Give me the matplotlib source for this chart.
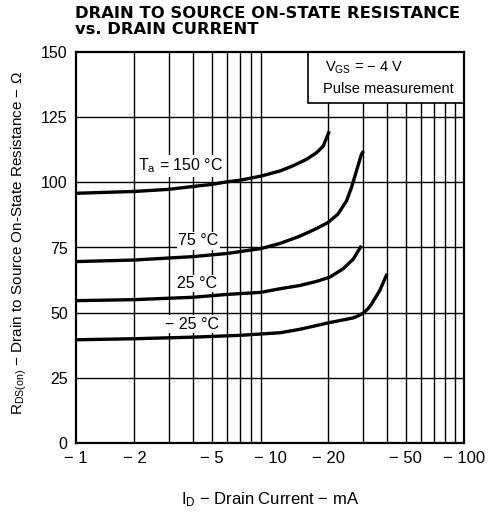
import numpy as np
import matplotlib
matplotlib.use("Agg")
import matplotlib.pyplot as plt
from matplotlib.patches import Rectangle

plt.rcParams['font.family'] = ['Liberation Sans', 'DejaVu Sans']
plt.rcParams['mathtext.default'] = 'regular'

# drain current (mA, magnitude) and on-state resistance (ohm) per temperature
id_150 = [1, 2, 3, 4, 5, 6, 7, 9, 11.3, 13.1, 15.4, 17.4, 18.8, 19.9, 20.2]
rds_150 = [95.8, 96.5, 97.3, 98.4, 99.2, 100.2, 100.8, 102.4, 104.4, 106.3, 108.8,
           111.4, 113.9, 118.4, 119.6]

id_75 = [1, 2, 4, 6, 9, 11.3, 14.2, 17.4, 19.9, 22.4, 24.8, 26.3, 27.9, 29.6, 30.3]
rds_75 = [69.6, 70.2, 71.5, 72.7, 74.6, 76.6, 79.3, 82.3, 84.6, 87.8, 92.9, 98, 104.4,
          110.7, 112]

id_25 = [1, 2, 4, 6, 9, 11.3, 14.2, 17.4, 20.3, 23.8, 26.9, 29.6]
rds_25 = [54.6, 55, 55.9, 57, 57.8, 59.2, 60.4, 62, 63.6, 66.8, 70.6, 75.7]

id_m25 = [1, 2, 4, 7, 11.3, 14.2, 20.3, 26.9, 28.5, 30.3, 32, 33.3, 36.8, 40.1]
rds_m25 = [39.6, 40, 40.6, 41.3, 42.3, 43.6, 46.2, 48.0, 48.8, 49.9, 51.5, 53.2,
           58.5, 64.9]

xticks = [1, 2, 5, 10, 20, 50, 100]
xtick_labels = ['\u2212 1', '\u2212 2', '\u2212 5', '\u2212 10', '\u2212 20', '\u2212 50', '\u2212 100']
yticks = [0, 25, 50, 75, 100, 125, 150]

W, H = 490, 515
fig = plt.figure(figsize=(W / 100, H / 100), dpi=100)
ax = fig.add_axes([76 / W, 1 - 443 / H, (464 - 76) / W, (443 - 52) / H])
ax.set_xscale('log')
ax.set_xlim(1, 100)
ax.set_ylim(0, 150)

# grid
for d in [1, 10]:
    for k in range(2, 10):
        ax.axvline(k * d, color='black', lw=1.0, zorder=1)
for y in [25, 50, 75, 100, 125]:
    ax.axhline(y, color='black', lw=1.0, zorder=1)

for xs, ys in [(id_150, rds_150), (id_75, rds_75), (id_25, rds_25), (id_m25, rds_m25)]:
    ax.plot(xs, ys, color='black', lw=2.4, solid_capstyle='butt',
            solid_joinstyle='round', zorder=3)

ax.set_xticks(xticks)
ax.set_xticklabels(xtick_labels, fontsize=12)
ax.xaxis.set_minor_locator(matplotlib.ticker.NullLocator())
ax.set_yticks(yticks)
ax.set_yticklabels([str(v) for v in yticks], fontsize=11.5)
ax.tick_params(length=0, pad=6)
for s in ax.spines.values():
    s.set_linewidth(1.6)
    s.set_zorder(5)

# curve labels
bb = dict(facecolor='white', edgecolor='none', pad=1.0)
lab_kw = dict(fontsize=11.5, va='center', ha='left', bbox=bb, zorder=4)
ax.text(2.09, 106.3, 'T$_a$ = 150 \u00b0C', **lab_kw)
ax.text(3.36, 77.6, '75 \u00b0C', **lab_kw)
ax.text(3.31, 61.2, '25 \u00b0C', **lab_kw)
ax.text(2.88, 45.5, '\u2212 25 \u00b0C', **lab_kw)

# condition box
ax.add_patch(Rectangle((0.598, 0.87), 0.402, 0.13, transform=ax.transAxes,
                       facecolor='white', edgecolor='black', lw=1.2, zorder=4))
ax.text(0.643, 0.96, 'V$_{GS}$ = \u2212 4 V', transform=ax.transAxes, fontsize=10.5,
        va='center', ha='left', zorder=6)
ax.text(0.637, 0.906, 'Pulse measurement', transform=ax.transAxes, fontsize=10.5,
        va='center', ha='left', zorder=6)

# titles and axis labels
fig.text(75 / W, 1 - 18 / H, 'DRAIN TO SOURCE ON-STATE RESISTANCE', family='DejaVu Sans',
         fontweight='bold', fontsize=11.8, ha='left', va='baseline')
fig.text(75 / W, 1 - 34 / H, 'vs. DRAIN CURRENT', family='DejaVu Sans',
         fontweight='bold', fontsize=11.8, ha='left', va='baseline')
fig.text(270 / W, 1 - 500 / H, 'I$_D$ \u2212 Drain Current \u2212 mA', fontsize=12,
         ha='center', va='center')
fig.text(19 / W, 1 - 243 / H,
         'R$_{DS(on)}$ \u2212 Drain to Source On-State Resistance \u2212 \u03a9',
         fontsize=11, rotation=90, ha='center', va='center')

fig.savefig('out.png', dpi=100)
